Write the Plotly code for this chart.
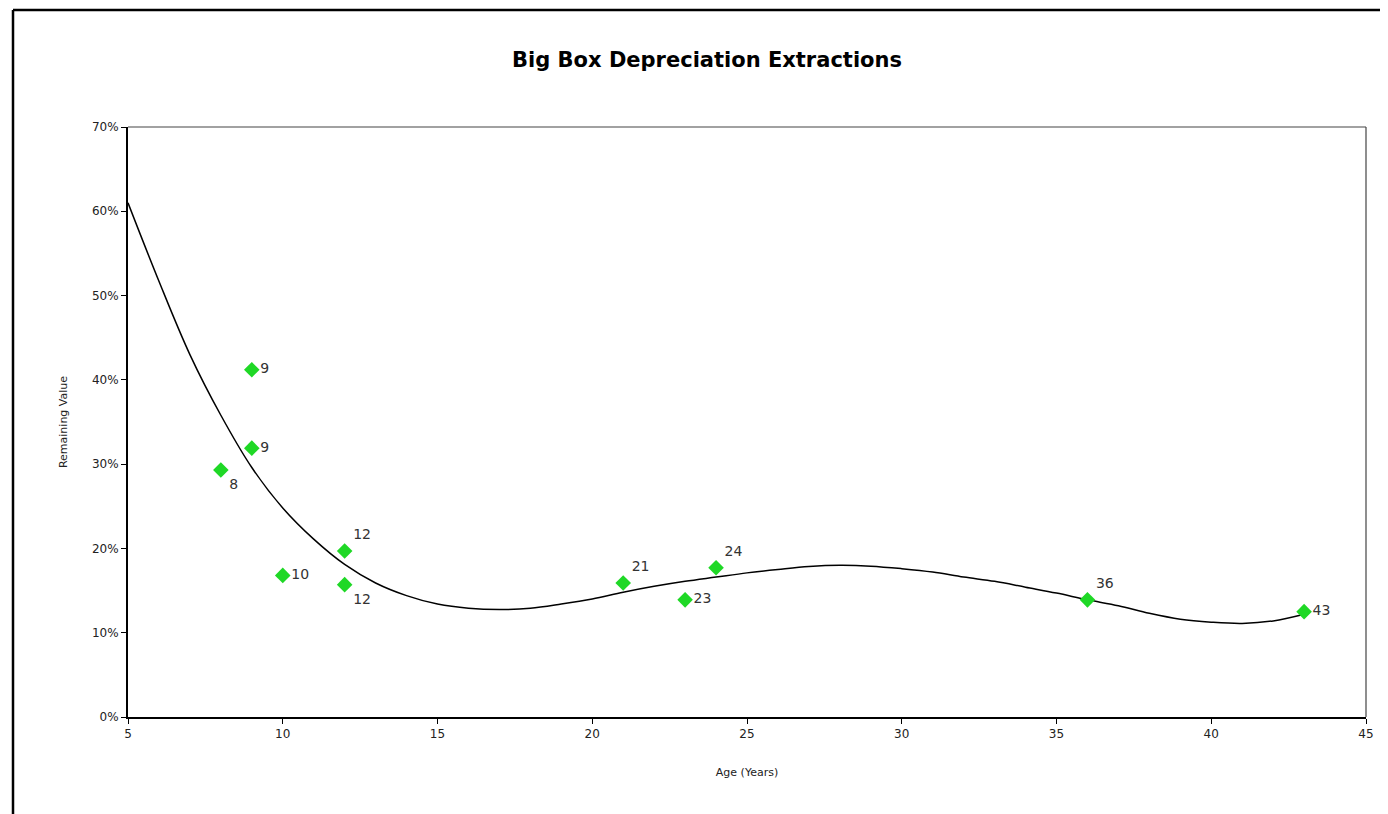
import plotly.graph_objects as go

# ---- data ----
ages = [9, 9, 8, 12, 10, 12, 21, 23, 24, 36, 43]
remaining = [0.412, 0.319, 0.293, 0.197, 0.168, 0.157, 0.159, 0.139, 0.177, 0.139, 0.125]
point_labels = ["9", "9", "8", "12", "10", "12", "21", "23", "24", "36", "43"]

trend_age = [5, 6, 7, 8, 9, 10, 11, 12, 13, 14, 15, 16, 17, 18, 19, 20, 21, 22, 23, 24,
             25, 26, 27, 28, 29, 30, 31, 32, 33, 34, 35, 36, 37, 38, 39, 40, 41, 42, 43]
trend_value = [0.610, 0.517, 0.430, 0.358, 0.296, 0.248, 0.211, 0.181, 0.159, 0.144,
               0.134, 0.129, 0.1275, 0.129, 0.134, 0.140, 0.148, 0.155, 0.161, 0.166,
               0.171, 0.175, 0.1785, 0.180, 0.179, 0.176, 0.172, 0.166, 0.161, 0.154,
               0.147, 0.139, 0.132, 0.123, 0.116, 0.1125, 0.111, 0.114, 0.122]

x_ticks = [5, 10, 15, 20, 25, 30, 35, 40, 45]
y_ticks = [0, 0.1, 0.2, 0.3, 0.4, 0.5, 0.6, 0.7]

label_pos = ["middle right", "middle right", "bottom right", "top right", "middle right",
             "bottom right", "top right", "middle right", "top right", "top right", "middle right"]

W, H = 1388, 814
OFF = 8  # page body offset
L, R, T, B = 128 - OFF, 1366 - OFF, 127 - OFF, 717 - OFF

fig = go.Figure()
fig.add_trace(go.Scatter(
    x=trend_age, y=trend_value, mode="lines",
    line=dict(color="black", width=1.5, shape="spline", smoothing=1.0),
    hoverinfo="skip", showlegend=False))
fig.add_trace(go.Scatter(
    x=ages, y=remaining, mode="markers+text",
    marker=dict(symbol="diamond", size=12, color="#1fd826", line=dict(width=0)),
    text=point_labels, textposition=label_pos,
    textfont=dict(family="DejaVu Sans, Arial", size=14, color="#333333"),
    showlegend=False))

def px_x(p):
    return (p - OFF - L) / (R - L)

def px_y(p):
    return (B - (p - OFF)) / (B - T)

shapes = [
    dict(type="line", xref="paper", yref="paper", x0=0, x1=1, y0=1, y1=1,
         line=dict(color="#444444", width=1.2)),
    dict(type="line", xref="paper", yref="paper", x0=1, x1=1, y0=0, y1=1,
         line=dict(color="#444444", width=1.2)),
    dict(type="line", xref="paper", yref="paper", x0=px_x(13), x1=px_x(13), y0=px_y(830), y1=px_y(10),
         line=dict(color="black", width=2.5)),
    dict(type="line", xref="paper", yref="paper", x0=px_x(13), x1=px_x(1400), y0=px_y(10), y1=px_y(10),
         line=dict(color="black", width=2.5)),
]

axis_font = dict(family="DejaVu Sans, Arial", size=12, color="#222222")
title_font = dict(family="DejaVu Sans, Arial", size=11, color="#222222")

fig.update_layout(
    width=W, height=H,
    margin=dict(l=L, r=W - R, t=T, b=H - B),
    paper_bgcolor="white", plot_bgcolor="white",
    title=dict(text="<b>Big Box Depreciation Extractions</b>", x=(707 - OFF) / W, xanchor="center",
               y=1 - (60 - OFF) / H, yanchor="middle",
               font=dict(family="DejaVu Sans, Arial", size=21, color="black")),
    xaxis=dict(range=[5, 45], tickvals=x_ticks, ticks="outside", ticklen=5, tickwidth=1,
               tickcolor="black", showgrid=False, zeroline=False,
               showline=True, linecolor="black", linewidth=2,
               tickfont=axis_font,
               title=dict(text="Age (Years)", standoff=28, font=title_font)),
    yaxis=dict(range=[0, 0.7], tickvals=y_ticks, tickformat=".0%", ticks="outside", ticklen=5,
               tickwidth=1, tickcolor="black", showgrid=False, zeroline=False,
               showline=True, linecolor="black", linewidth=2,
               tickfont=axis_font,
               title=dict(text="Remaining Value", standoff=22, font=title_font)),
    shapes=shapes,
)

fig.write_html("out.html")
